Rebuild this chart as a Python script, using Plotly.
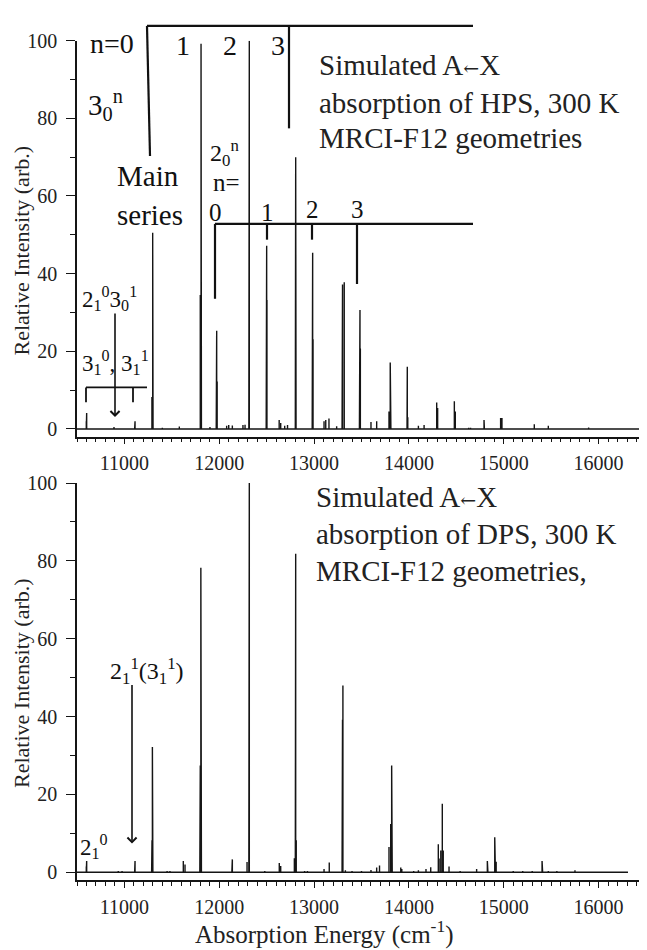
import plotly.graph_objects as go

# Simulated A<-X stick spectra (band origin in cm-1, relative intensity)
hps_energy = [10598, 10602, 10890, 11108, 11112, 11290, 11298, 11302, 11400, 11579,
              11800, 11808, 11812, 11902, 11968, 11973, 11978, 12078, 12100, 12138,
              12250, 12272, 12312, 12317, 12495, 12500, 12503, 12632, 12648, 12690,
              12720, 12802, 12806, 12810, 12980, 12985, 12989, 13105, 13123, 13157,
              13238, 13295, 13300, 13318, 13478, 13484, 13488, 13600, 13660, 13790,
              13803, 13810, 13980, 13983, 13988, 14100, 14160, 14293, 14303, 14479,
              14489, 14630, 14650, 14792, 14796, 14967, 14981, 15322, 15470, 15895]
hps_intensity = [2.0, 4.1, 0.5, 1.5, 2.0, 8.2, 50.5, 29.1, 0.3, 0.6,
                 34.5, 99.2, 29.1, 0.5, 4.5, 25.3, 12.2, 0.8, 1.0, 0.9,
                 1.0, 1.1, 1.5, 100.0, 3.3, 47.2, 33.2, 2.3, 1.5, 0.8,
                 1.0, 66.0, 70.0, 1.5, 8.2, 45.4, 23.1, 2.0, 2.3, 2.7,
                 0.7, 1.2, 37.2, 37.8, 2.5, 30.6, 20.7, 1.8, 2.0, 4.5,
                 17.1, 5.4, 7.9, 16.0, 3.0, 0.8, 1.0, 6.8, 5.4, 7.1,
                 4.5, 0.3, 0.3, 2.3, 1.0, 2.8, 2.8, 1.2, 0.8, 0.4]

dps_energy = [10598, 10602, 10935, 10975, 11108, 11112, 11287, 11291, 11295, 11300,
              11450, 11480, 11621, 11639, 11795, 11800, 11806, 11812, 11950, 12000,
              12133, 12138, 12293, 12312, 12317, 12480, 12633, 12648, 12792, 12802,
              12806, 12812, 12900, 12930, 13105, 13160, 13295, 13300, 13304, 13330,
              13400, 13500, 13600, 13660, 13690, 13790, 13808, 13818, 13824, 13914,
              13925, 14050, 14100, 14180, 14230, 14310, 14318, 14336, 14352, 14362,
              14423, 14540, 14714, 14827, 14833, 14905, 14912, 14920, 15100, 15200,
              15300, 15404, 15410, 15470, 15560, 15751, 15850, 15950, 16050, 16150,
              16250]
dps_intensity = [1.5, 2.9, 0.3, 0.3, 2.0, 2.9, 4.6, 8.2, 32.2, 18.1,
                 0.3, 0.3, 2.9, 2.0, 8.2, 27.4, 78.2, 21.4, 0.2, 0.2,
                 2.0, 3.3, 2.6, 8.2, 100.0, 0.3, 2.4, 1.6, 3.6, 72.5,
                 81.8, 8.2, 0.3, 0.3, 0.8, 2.5, 6.9, 39.2, 48.0, 0.5,
                 0.3, 0.3, 0.6, 1.2, 1.7, 6.5, 12.4, 27.4, 11.1, 1.2,
                 0.8, 0.3, 0.5, 0.8, 1.3, 7.2, 3.5, 5.6, 17.6, 5.6,
                 1.5, 0.3, 0.8, 2.9, 2.9, 9.0, 8.6, 2.7, 0.3, 0.3,
                 0.3, 2.9, 2.2, 0.3, 0.3, 0.5, 0.2, 0.2, 0.2, 0.2,
                 0.2]

energy_range = [10500, 16500]
hps_span = [10500, 16500]
dps_span = [10500, 16310]

# the page body adds an 8px margin, so lay out in page pixels and shift back
OFF = 8
W, H = 647 - OFF, 950 - OFF
FONT = "Liberation Serif, Times New Roman, serif"
INK = "#151515"


def px(x):
    return (x - OFF) / W


def py(y):
    return 1 - (y - OFF) / H


def stick_path(energy, intensity, span):
    # baseline with one spike per band, drawn as a single polyline
    xs, ys = [span[0]], [0]
    for e, h in sorted(zip(energy, intensity)):
        xs += [e, e, e]
        ys += [0, h, 0]
    xs.append(span[1])
    ys.append(0)
    return xs, ys


fig = go.Figure()

hx, hy = stick_path(hps_energy, hps_intensity, hps_span)
dx, dy = stick_path(dps_energy, dps_intensity, dps_span)
fig.add_trace(go.Scatter(x=hx, y=hy, mode="lines", line=dict(color=INK, width=1.4),
                         xaxis="x", yaxis="y", showlegend=False, hoverinfo="skip"))
fig.add_trace(go.Scatter(x=dx, y=dy, mode="lines", line=dict(color=INK, width=1.4),
                         xaxis="x2", yaxis="y2", showlegend=False, hoverinfo="skip"))

xax = dict(range=energy_range, domain=[px(77), px(646)], showline=True, linecolor=INK,
           linewidth=1.6, ticks="outside", ticklen=6, tickwidth=1.3, tickcolor=INK,
           tick0=0, dtick=1000, tickformat="d", ticklabelstandoff=2,
           minor=dict(dtick=100, ticks="outside", ticklen=4, tickwidth=1.1, tickcolor=INK),
           showgrid=False, zeroline=False, tickfont=dict(family=FONT, size=20, color="#222"))
yax = dict(range=[-2, 100], showline=True, linecolor=INK, linewidth=1.6, ticks="outside",
           ticklen=9, tickwidth=1.3, tickcolor=INK, tick0=0, dtick=20, ticklabelstandoff=5,
           minor=dict(dtick=10, ticks="outside", ticklen=5, tickwidth=1.1, tickcolor=INK),
           showgrid=False, zeroline=False, tickfont=dict(family=FONT, size=20, color="#222"))

fig.update_layout(
    width=W, height=H, margin=dict(l=0, r=0, t=0, b=0),
    paper_bgcolor="white", plot_bgcolor="white",
    xaxis=dict(xax, anchor="y"),
    yaxis=dict(yax, anchor="x", domain=[py(432), py(30)]),
    xaxis2=dict(xax, anchor="y2"),
    yaxis2=dict(yax, anchor="x2", domain=[py(882), py(479)]),
)


def seg(x0, y0, x1, y1, w=2.2):
    return dict(type="line", xref="paper", yref="paper", x0=px(x0), y0=py(y0),
                x1=px(x1), y1=py(y1), line=dict(color="#111", width=w))


shapes = [
    # 3_0^n main series bracket
    seg(147, 15, 473, 15), seg(147, 15, 150, 147), seg(289, 15, 289, 119),
    # 2_0^n series bracket
    seg(215, 216, 473, 216), seg(215, 216, 215, 292), seg(267, 216, 267, 232),
    seg(312, 216, 312, 232), seg(357, 216, 357, 277),
    # 3_1^0, 3_1^1 bracket
    seg(86, 382, 147, 382, 1.8), seg(86, 382, 86, 397, 1.8), seg(133, 382, 133, 397, 1.8),
]
fig.update_layout(shapes=shapes)


def label(text, x, y, size=28, anchor="left", angle=0, color="#111"):
    fig.add_annotation(text=text, x=px(x), y=py(y), xref="paper", yref="paper",
                       xanchor=anchor, yanchor="middle", showarrow=False, textangle=angle,
                       font=dict(family=FONT, size=size, color=color))


def arrow(x, y_tail, y_tip):
    fig.add_annotation(text="", x=px(x), y=py(y_tip), xref="paper", yref="paper",
                       ax=0, ay=-(y_tip - y_tail), showarrow=True, arrowhead=4,
                       arrowsize=1.1, arrowwidth=1.6, arrowcolor="#111")


ARROW = "A<span style='font-family:DejaVu Serif;font-size:19px'>\u2190</span>X"

# top panel
label("n=0", 112, 33, anchor="center")
label("1", 183, 35, anchor="center")
label("2", 230, 35, anchor="center")
label("3", 278, 35, anchor="center")
label("3<sub>0</sub><sup>n</sup>", 86, 95, size=29)
label("Main", 148, 167, size=29, anchor="center")
label("series", 150, 207, size=29, anchor="center")
label("2<sub>0</sub><sup>n</sup>", 208, 144, size=24)
label("n=", 211, 174, size=25)
label("0", 215, 204, size=25, anchor="center")
label("1", 267, 204, size=25, anchor="center")
label("2", 312, 201, size=25, anchor="center")
label("3", 357, 201, size=25, anchor="center")
label("2<sub>1</sub><sup>0</sup>3<sub>0</sub><sup>1</sup>", 80, 292, size=23)
label("3<sub>1</sub><sup>0</sup>, 3<sub>1</sub><sup>1</sup>", 80, 357, size=23)
arrow(115, 307, 412)
label("Simulated " + ARROW, 317, 55, size=29, color="#222")
label("absorption of HPS, 300 K", 317, 93, size=29, color="#222")
label("MRCI-F12 geometries", 317, 129, size=29, color="#222")

# bottom panel
label("Simulated " + ARROW, 314, 493, size=29, color="#222")
label("absorption of DPS, 300 K", 314, 531, size=29, color="#222")
label("MRCI-F12 geometries,", 314, 568, size=29, color="#222")
label("2<sub>1</sub><sup>1</sup>(3<sub>1</sub><sup>1</sup>)", 108, 670, size=24)
arrow(132, 685, 845)
label("2<sub>1</sub><sup>0</sup>", 78, 848, size=23)

# axis titles
for yc in (243, 682):
    label("Relative Intensity (arb.)", 22, yc, size=22, anchor="center", angle=-90,
          color="#222")
label("Absorption Energy (cm<sup>-1</sup>)", 324, 935, size=25, anchor="center", color="#222")

fig.write_html("out.html")
